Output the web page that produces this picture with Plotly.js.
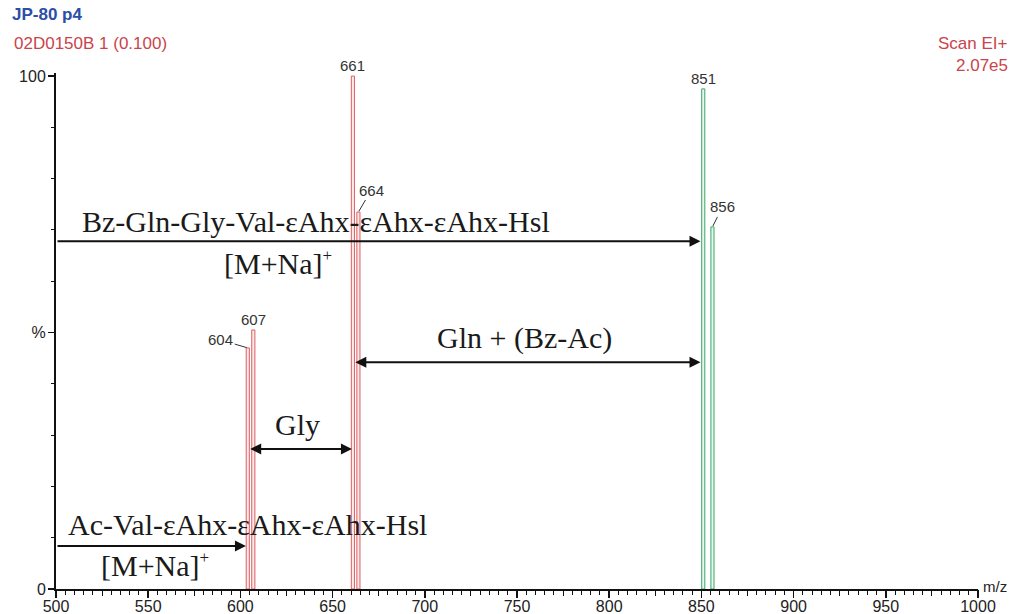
<!DOCTYPE html>
<html>
<head>
<meta charset="utf-8">
<script src="https://cdn.plot.ly/plotly-3.0.1.min.js"></script>
<style>html,body{margin:0;padding:0;background:#fff;}#chart{width:1013px;height:614px;}</style>
</head>
<body>
<div id="chart"></div>
<script>
// Data
const redMz = [604, 607, 661, 664];
const redIntensity = [47, 50.5, 100, 73.5];
const greenMz = [851, 856];
const greenIntensity = [97.5, 70.6];
const xTickVals = [500, 550, 600, 650, 700, 750, 800, 850, 900, 950, 1000];
const yTickVals = [0, 50, 100];
const yTickText = ['0', '%', '100'];

const RED = '#dc5f63';
const GREEN = '#3aa56b';
const serif = 'Liberation Serif, Times New Roman, serif';
const sans = 'Liberation Sans, Arial, sans-serif';

const traces = [
  {type: 'bar', x: redMz, y: redIntensity, width: 1.7,
   marker: {color: '#fbe9e9', line: {color: RED, width: 1}}, hoverinfo: 'skip'},
  {type: 'bar', x: greenMz, y: greenIntensity, width: 1.7,
   marker: {color: '#e6f5ec', line: {color: GREEN, width: 1}}, hoverinfo: 'skip'},
  {type: 'scatter', x: [500], y: [0], xaxis: 'x2', mode: 'markers',
   marker: {opacity: 0}, hoverinfo: 'skip', showlegend: false}
];

const ann = [];
ann.push({xref: 'paper', yref: 'paper', x: -0.050, y: 1.114, xanchor: 'left', yanchor: 'middle',
  text: '<b>JP-80 p4</b>', showarrow: false, font: {family: sans, size: 17, color: '#2b4ea6'}});
ann.push({xref: 'paper', yref: 'paper', x: -0.048, y: 1.057, xanchor: 'left', yanchor: 'middle',
  text: '02D0150B 1 (0.100)', showarrow: false, font: {family: sans, size: 17, color: '#c9444b'}});
ann.push({xref: 'paper', yref: 'paper', x: 1.0347, y: 1.057, xanchor: 'right', yanchor: 'middle',
  text: 'Scan EI+', showarrow: false, font: {family: sans, size: 17, color: '#c9444b'}});
ann.push({xref: 'paper', yref: 'paper', x: 1.0347, y: 1.0136, xanchor: 'right', yanchor: 'middle',
  text: '2.07e5', showarrow: false, font: {family: sans, size: 17, color: '#c9444b'}});
ann.push({xref: 'paper', yref: 'paper', x: 1.004, y: -0.0145, xanchor: 'left', yanchor: 'bottom',
  text: 'm/z', showarrow: false, borderpad: 0, font: {family: sans, size: 15, color: '#222'}});

const lblFont = {family: sans, size: 15, color: '#333'};
const allMz = redMz.concat(greenMz);
const allI = redIntensity.concat(greenIntensity);
const leader = {604: [-27, -8], 664: [13, -22], 856: [10, -20]};
allMz.forEach((m, i) => {
  if (leader[m]) {
    ann.push({x: m, y: allI[i], text: String(m), showarrow: true, arrowhead: 0,
      arrowwidth: 1, arrowcolor: '#333', ax: leader[m][0], ay: leader[m][1],
      standoff: 1, font: lblFont});
  } else {
    ann.push({x: m, y: allI[i], text: String(m), showarrow: false, yanchor: 'bottom',
      yshift: 0, font: lblFont});
  }
});

const arrowBase = {text: '', showarrow: true, axref: 'x', ayref: 'y', arrowhead: 2,
  arrowsize: 1.1, arrowwidth: 2, arrowcolor: '#111', standoff: 0, startstandoff: 0};
ann.push(Object.assign({}, arrowBase, {x: 849.5, y: 67.8, ax: 500, ay: 67.8}));
ann.push(Object.assign({}, arrowBase, {x: 849.5, y: 44.2, ax: 661.5, ay: 44.2, arrowside: 'end+start'}));
ann.push(Object.assign({}, arrowBase, {x: 660.5, y: 27.3, ax: 604.5, ay: 27.3, arrowside: 'end+start'}));
ann.push(Object.assign({}, arrowBase, {x: 603, y: 8.4, ax: 500, ay: 8.4}));

const tFont = {family: serif, size: 30, color: '#1a1a1a'};
const mna = '[M+Na]<sup><span style="font-size:17px">+</span></sup>';
ann.push({x: 641, y: 71.6, text: 'Bz-Gln-Gly-Val-εAhx-εAhx-εAhx-Hsl', showarrow: false, font: tFont});
ann.push({x: 620.5, y: 63.6, text: mna, showarrow: false, font: tFont});
ann.push({x: 754.3, y: 48.9, text: 'Gln + (Bz-Ac)', showarrow: false, font: tFont});
ann.push({x: 631, y: 32.1, text: 'Gly', showarrow: false, font: tFont});
ann.push({x: 603.6, y: 12.6, text: 'Ac-Val-εAhx-εAhx-εAhx-Hsl', showarrow: false, font: tFont});
ann.push({x: 553.7, y: 4.6, text: mna, showarrow: false, font: tFont});

const layout = {
  width: 1013, height: 614,
  margin: {l: 56, r: 35, t: 73, b: 25, pad: 0},
  paper_bgcolor: '#fff', plot_bgcolor: '#fff',
  showlegend: false,
  bargap: 0,
  xaxis: {range: [500, 1000], tickvals: xTickVals, ticks: 'outside', ticklen: 7,
    tickwidth: 1.5, tickcolor: '#111', showline: true, linecolor: '#111', linewidth: 2,
    showgrid: false, zeroline: false, tickfont: {family: sans, size: 16, color: '#222'},
    ticklabelstandoff: -5,
    minor: {dtick: 5, tick0: 500, ticks: 'outside', ticklen: 4, tickcolor: '#111', tickwidth: 1, showgrid: false},
    fixedrange: true},
  xaxis2: {range: [500, 1000], overlaying: 'x', side: 'bottom', dtick: 25, tick0: 500,
    ticks: 'outside', ticklen: 6, tickcolor: '#111', tickwidth: 1, showticklabels: false,
    showgrid: false, zeroline: false, showline: false, fixedrange: true},
  yaxis: {range: [0, 100.6], tickvals: yTickVals, ticktext: yTickText, ticks: 'outside',
    ticklen: 6, tickwidth: 1.5, tickcolor: '#111', showline: true, linecolor: '#111', linewidth: 2,
    showgrid: false, zeroline: false, tickfont: {family: sans, size: 16, color: '#222'},
    ticklabelstandoff: -1,
    minor: {dtick: 10, tick0: 0, ticks: 'outside', ticklen: 3, tickcolor: '#111', tickwidth: 1, showgrid: false},
    fixedrange: true},
  annotations: ann
};

Plotly.newPlot('chart', traces, layout, {displayModeBar: false, staticPlot: true});
</script>
</body>
</html>
